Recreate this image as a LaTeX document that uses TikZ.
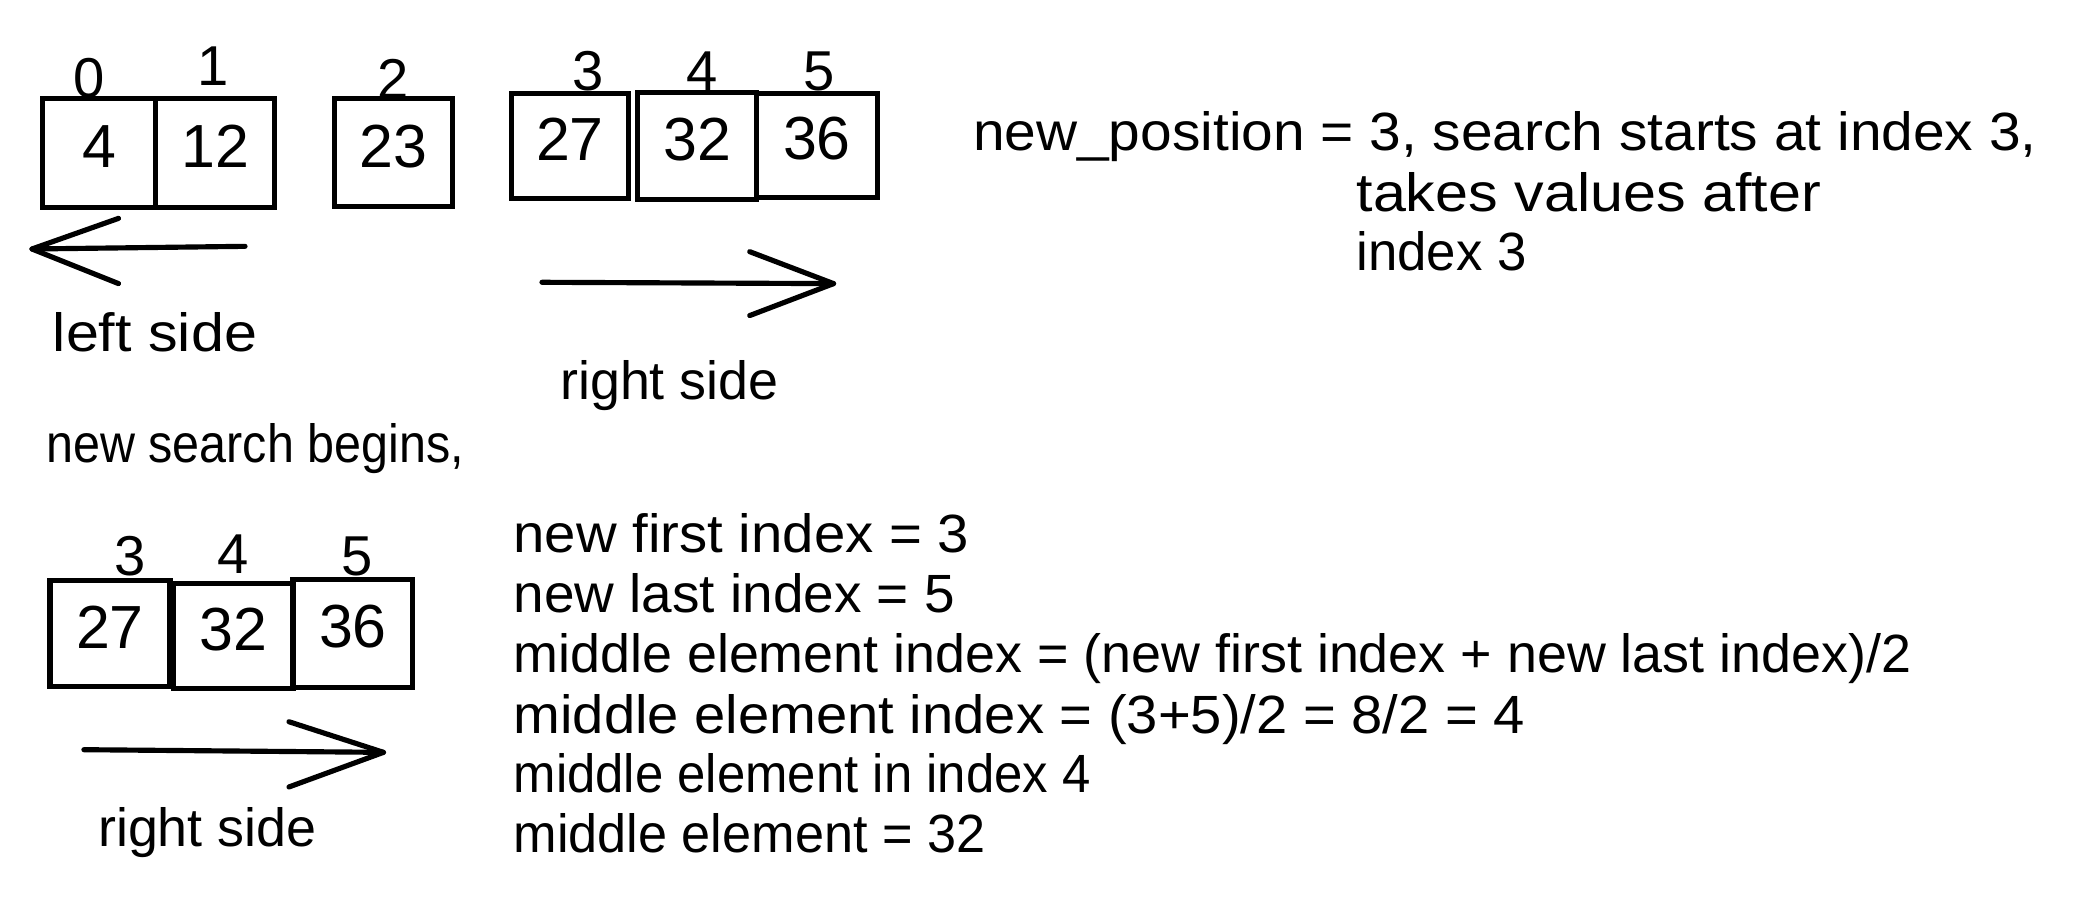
\documentclass[tikz,border=0pt]{standalone}
\usepackage{fontspec}
\usepackage{graphicx}
\setmainfont{Liberation Sans}
\newcommand{\sx}[2]{\scalebox{#1}[1]{#2}}
\begin{document}
\begin{tikzpicture}[x=0.01cm,y=-0.01cm,
  cell/.style={draw, line width=1.1pt, inner sep=0pt, text depth=0.1cm, font=\fontsize{13}{15}\selectfont},
  idx/.style={anchor=base, inner sep=0pt, font=\fontsize{12}{14}\selectfont},
  txt/.style={anchor=base west, inner sep=0pt, font=\fontsize{11.5}{14}\selectfont},
  sk/.style={line width=1.1pt, line cap=round, line join=round}]
\useasboundingbox[fill=white] (0,0) rectangle (1568,677);
% top row of cells
\node[cell, minimum width=0.85cm, minimum height=0.82cm] (b4)  at (74.5,115) {4};
\node[cell, minimum width=0.89cm, minimum height=0.82cm] (b12) at (161.5,115) {12};
\node[cell, minimum width=0.89cm, minimum height=0.81cm] (b23) at (295.5,114.5) {23};
\node[cell, minimum width=0.88cm, minimum height=0.79cm] (b27) at (428,109.5) {27};
\node[cell, minimum width=0.89cm, minimum height=0.80cm] (b32) at (523.5,109.5) {32};
\node[cell, minimum width=0.91cm, minimum height=0.78cm] (b36) at (613.5,109) {36};
% indices
\node[idx] (i0) at (67,73) {0};
\node[idx] (i1) at (160,64) {1};
\node[idx] (i2) at (295,74) {2};
\node[idx] (i3) at (442,68) {3};
\node[idx] (i4) at (527,68) {4};
\node[idx] (i5) at (615,68) {5};
% left arrow
\coordinate (la1) at (184,185);
\coordinate (la2) at (24,187);
\coordinate (lh1) at (89,164);
\coordinate (lh2) at (89,213);
\draw[sk] (la1) -- (la2);
\draw[sk] (lh1) -- (la2) -- (lh2);
% right arrow
\coordinate (ra1) at (407,212);
\coordinate (ra2) at (626,213);
\coordinate (rh1) at (563,189);
\coordinate (rh2) at (563,237);
\draw[sk] (ra1) -- (ra2);
\draw[sk] (rh1) -- (ra2) -- (rh2);
\node[txt] (ls) at (39,264) {\sx{1.1}{left side}};
\node[txt] (rs) at (420,300) {right side};
% explanation
\node[txt] (t1) at (730,113) {\sx{1.056}{new\_position = 3, search starts at index 3,}};
\node[txt] (t2) at (1018,159) {\sx{1.10}{takes values after}};
\node[txt] (t3) at (1018,203) {\sx{0.98}{index 3}};
\node[txt] (nsb) at (34,347) {\sx{0.90}{new search begins,}};
% bottom row
\node[cell, minimum width=0.90cm, minimum height=0.80cm] (c27) at (82.6,475.8) {27};
\node[cell, minimum width=0.90cm, minimum height=0.79cm] (c32) at (175,477.5) {32};
\node[cell, minimum width=0.90cm, minimum height=0.81cm] (c36) at (265,475.5) {36};
\node[idx] (j3) at (97.6,432) {3};
\node[idx] (j4) at (175,431) {4};
\node[idx] (j5) at (268,432) {5};
% bottom arrow
\coordinate (ba1) at (63,563);
\coordinate (ba2) at (288,565);
\coordinate (bh1) at (217,542);
\coordinate (bh2) at (217,591);
\draw[sk] (ba1) -- (ba2);
\draw[sk] (bh1) -- (ba2) -- (bh2);
\node[txt] (rs2) at (73,636) {right side};
% lines
\node[txt] (l1) at (385,415) {\sx{1.046}{new first index = 3}};
\node[txt] (l2) at (385,460) {\sx{1.02}{new last index = 5}};
\node[txt] (l3) at (385,505) {middle element index = (new first index + new last index)/2};
\node[txt] (l4) at (385,551) {\sx{1.043}{middle element index = (3+5)/2 = 8/2 = 4}};
\node[txt] (l5) at (385,595) {\sx{0.945}{middle element in index 4}};
\node[txt] (l6) at (385,640) {\sx{0.97}{middle element = 32}};
\end{tikzpicture}
\end{document}
